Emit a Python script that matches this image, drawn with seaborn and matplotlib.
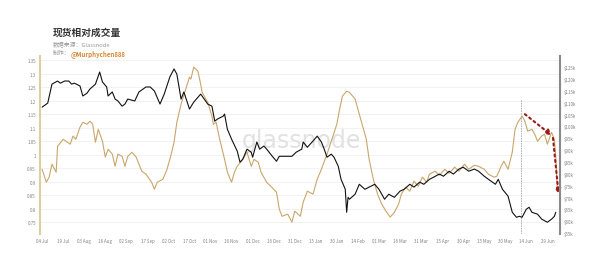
import matplotlib
matplotlib.use("Agg")
from matplotlib import pyplot as plt
import matplotlib.dates as mdates
import pandas as pd
import seaborn as sns

# spot relative volume (left axis, gold line)
vol_dates = ['2024-07-04', '2024-07-07', '2024-07-09', '2024-07-11', '2024-07-14', '2024-07-15',
             '2024-07-19', '2024-07-21', '2024-07-24', '2024-07-26', '2024-07-28', '2024-07-31',
             '2024-08-02', '2024-08-05', '2024-08-07', '2024-08-09', '2024-08-11', '2024-08-13',
             '2024-08-16', '2024-08-18', '2024-08-20', '2024-08-23', '2024-08-25', '2024-08-27',
             '2024-08-30', '2024-09-01', '2024-09-03', '2024-09-06', '2024-09-09', '2024-09-13',
             '2024-09-16', '2024-09-20', '2024-09-22', '2024-09-24', '2024-09-28', '2024-10-01',
             '2024-10-04', '2024-10-06', '2024-10-08', '2024-10-11', '2024-10-15', '2024-10-17',
             '2024-10-18', '2024-10-20', '2024-10-23', '2024-10-25', '2024-10-26', '2024-10-30',
             '2024-11-02', '2024-11-03', '2024-11-05', '2024-11-07', '2024-11-11', '2024-11-13',
             '2024-11-16', '2024-11-18', '2024-11-20', '2024-11-24', '2024-11-27', '2024-11-30',
             '2024-12-02', '2024-12-05', '2024-12-07', '2024-12-11', '2024-12-14', '2024-12-18',
             '2024-12-20', '2024-12-22', '2024-12-26', '2024-12-29', '2024-12-31', '2025-01-04',
             '2025-01-06', '2025-01-09', '2025-01-13', '2025-01-16', '2025-01-19', '2025-01-23',
             '2025-01-26', '2025-01-30', '2025-02-01', '2025-02-03', '2025-02-06', '2025-02-08',
             '2025-02-12', '2025-02-14', '2025-02-17', '2025-02-20', '2025-02-22', '2025-02-25',
             '2025-02-28', '2025-03-03', '2025-03-06', '2025-03-09', '2025-03-12', '2025-03-15',
             '2025-03-17', '2025-03-20', '2025-03-23', '2025-03-26', '2025-03-29', '2025-04-01',
             '2025-04-04', '2025-04-06', '2025-04-10', '2025-04-13', '2025-04-17', '2025-04-20',
             '2025-04-24', '2025-04-27', '2025-05-01', '2025-05-04', '2025-05-08', '2025-05-11',
             '2025-05-15', '2025-05-18', '2025-05-22', '2025-05-24', '2025-05-27', '2025-05-29',
             '2025-06-01', '2025-06-04', '2025-06-06', '2025-06-08', '2025-06-11', '2025-06-13',
             '2025-06-15', '2025-06-18', '2025-06-20', '2025-06-22', '2025-06-25', '2025-06-27',
             '2025-06-29', '2025-07-02', '2025-07-04', '2025-07-05', '2025-07-06']
vol_values = [0.946, 0.898, 0.917, 0.965, 0.935, 1.031,
              1.057, 1.050, 1.039, 1.069, 1.057, 1.102,
              1.120, 1.113, 1.124, 1.113, 1.046, 1.094,
              1.050, 0.991, 1.020, 1.002, 0.957, 1.002,
              0.994, 0.957, 0.994, 1.009, 0.991, 0.939,
              0.928, 0.898, 0.872, 0.898, 0.909, 0.946,
              1.002, 1.046, 1.120, 1.187, 1.254, 1.287,
              1.280, 1.324, 1.309, 1.261, 1.231, 1.194,
              1.143, 1.113, 1.120, 1.069, 0.983, 0.935,
              0.898, 0.935, 0.957, 0.983, 1.009, 0.957,
              0.983, 0.972, 0.935, 0.898, 0.883, 0.861,
              0.798, 0.772, 0.780, 0.750, 0.791, 0.772,
              0.824, 0.865, 0.854, 0.909, 0.946, 1.002,
              1.050, 1.113, 1.169, 1.217, 1.235, 1.231,
              1.206, 1.169, 1.113, 1.057, 0.983, 0.909,
              0.854, 0.817, 0.791, 0.769, 0.787, 0.817,
              0.854, 0.880, 0.865, 0.902, 0.883, 0.917,
              0.898, 0.928, 0.939, 0.924, 0.946, 0.931,
              0.954, 0.939, 0.965, 0.946, 0.961, 0.957,
              0.946, 0.928, 0.917, 0.920, 0.957, 0.976,
              0.946, 1.009, 1.094, 1.120, 1.143, 1.124,
              1.087, 1.094, 1.076, 1.050, 1.069, 1.076,
              1.039, 1.083, 1.057, 0.994, 0.880]

# price (right axis, black line), in $k
px_dates = ['2024-07-04', '2024-07-08', '2024-07-11', '2024-07-15', '2024-07-17', '2024-07-20',
            '2024-07-23', '2024-07-25', '2024-07-27', '2024-07-31', '2024-08-02', '2024-08-05',
            '2024-08-07', '2024-08-11', '2024-08-14', '2024-08-16', '2024-08-19', '2024-08-20',
            '2024-08-23', '2024-08-25', '2024-08-27', '2024-08-30', '2024-09-01', '2024-09-03',
            '2024-09-08', '2024-09-11', '2024-09-16', '2024-09-19', '2024-09-22', '2024-09-26',
            '2024-09-29', '2024-10-03', '2024-10-06', '2024-10-08', '2024-10-11', '2024-10-13',
            '2024-10-17', '2024-10-20', '2024-10-25', '2024-10-30', '2024-11-02', '2024-11-04',
            '2024-11-06', '2024-11-10', '2024-11-11', '2024-11-13', '2024-11-16', '2024-11-20',
            '2024-11-22', '2024-11-24', '2024-11-27', '2024-11-30', '2024-12-01', '2024-12-04',
            '2024-12-06', '2024-12-09', '2024-12-11', '2024-12-15', '2024-12-18', '2024-12-20',
            '2024-12-25', '2024-12-29', '2025-01-01', '2025-01-05', '2025-01-06', '2025-01-09',
            '2025-01-13', '2025-01-16', '2025-01-19', '2025-01-21', '2025-01-23', '2025-01-26',
            '2025-01-28', '2025-01-31', '2025-02-02', '2025-02-05', '2025-02-06', '2025-02-07',
            '2025-02-08', '2025-02-12', '2025-02-15', '2025-02-19', '2025-02-22', '2025-02-26',
            '2025-03-01', '2025-03-05', '2025-03-08', '2025-03-12', '2025-03-16', '2025-03-19',
            '2025-03-23', '2025-03-26', '2025-03-30', '2025-04-02', '2025-04-06', '2025-04-09',
            '2025-04-13', '2025-04-16', '2025-04-20', '2025-04-23', '2025-04-27', '2025-04-30',
            '2025-05-04', '2025-05-08', '2025-05-11', '2025-05-15', '2025-05-18', '2025-05-23',
            '2025-05-25', '2025-05-28', '2025-06-01', '2025-06-04', '2025-06-07', '2025-06-09',
            '2025-06-11', '2025-06-14', '2025-06-16', '2025-06-18', '2025-06-22', '2025-06-25',
            '2025-06-29', '2025-07-02', '2025-07-04', '2025-07-05']
px_values = [108.1, 109.8, 117.8, 119.1, 118.2, 119.1,
             119.1, 117.8, 118.2, 117.0, 112.8, 114.0,
             115.7, 117.8, 122.9, 118.7, 116.6, 112.8,
             114.5, 111.5, 110.7, 108.5, 109.4, 111.5,
             110.7, 114.5, 116.6, 116.6, 114.9, 109.4,
             113.6, 120.8, 124.2, 122.0, 111.5, 114.5,
             107.3, 110.2, 113.6, 109.4, 108.5, 102.2,
             103.1, 104.3, 105.2, 98.8, 94.6, 89.6,
             84.9, 86.2, 90.4, 89.1, 87.0, 93.4,
             90.4, 91.7, 90.4, 87.4, 85.3, 87.4,
             87.4, 87.4, 89.1, 90.4, 93.4, 91.2,
             93.8, 95.9, 93.4, 90.4, 87.0, 88.3,
             87.0, 83.2, 77.7, 73.5, 63.8, 70.1,
             69.3, 71.4, 75.6, 73.5, 74.4, 75.6,
             73.5, 69.3, 71.4, 70.1, 72.7, 73.5,
             75.6, 74.4, 76.5, 75.6, 77.7, 78.6,
             79.9, 79.0, 81.1, 79.9, 82.0, 82.8,
             81.1, 82.0, 81.1, 79.0, 77.7, 75.6,
             77.7, 73.5, 70.6, 63.8, 61.7, 62.1,
             61.7, 65.1, 65.9, 63.8, 63.0, 60.9,
             59.6, 60.9, 62.1, 63.8]

left_ticks = [0.75, 0.8, 0.85, 0.9, 0.95, 1, 1.05, 1.1, 1.15, 1.2, 1.25, 1.3, 1.35]
left_labels = ['0.75', '0.8', '0.85', '0.9', '0.95', '1', '1.05', '1.1', '1.15', '1.2', '1.25', '1.3', '1.35']
right_ticks = list(range(55, 130, 5))
right_labels = ['$%dk' % v for v in right_ticks]

vol = pd.DataFrame({'date': pd.to_datetime(vol_dates), 'value': vol_values})
px = pd.DataFrame({'date': pd.to_datetime(px_dates), 'value': px_values})

sns.set_theme(style='white')
plt.rcParams['font.family'] = ['Noto Sans CJK SC', 'DejaVu Sans']

fig = plt.figure(figsize=(6, 2.55), dpi=100)
ax = fig.add_axes([0.0667, 0.078, 0.8666, 0.698])
ax2 = ax.twinx()

# watermark, behind the lines
ax.text(0.502, 0.53, 'glassnode', transform=ax.transAxes, fontsize=17, color='#e2e2e2',
        ha='center', va='center', family='DejaVu Sans', zorder=1)

sns.lineplot(data=vol, x='date', y='value', ax=ax, color='#c9a66b', linewidth=0.8, zorder=3)
sns.lineplot(data=px, x='date', y='value', ax=ax2, color='#111111', linewidth=0.8)

ax.set_ylim(0.706, 1.365)
ax2.set_ylim(54.6, 129.6)
ax.set_xlim(pd.Timestamp('2024-07-02 12:00'), pd.Timestamp('2025-07-08'))

ax.set_yticks(left_ticks)
ax.set_yticklabels(left_labels)
ax2.set_yticks(right_ticks)
ax2.set_yticklabels(right_labels)
ax.grid(axis='y', color='#f0f0f0', linewidth=0.6)
ax.set_axisbelow(True)

xt = pd.date_range('2024-07-04', periods=25, freq='15D')
ax.set_xticks(xt)
ax.xaxis.set_major_formatter(mdates.DateFormatter('%d %b'))

for a in (ax, ax2):
    a.set_xlabel('')
    a.set_ylabel('')
    a.tick_params(axis='both', labelsize=3.2, colors='#808080', length=0, pad=3)
    a.spines['top'].set_visible(False)
    a.spines['bottom'].set_visible(False)
ax.spines['right'].set_visible(False)
ax.spines['left'].set_color('#dccfa2')
ax.spines['left'].set_linewidth(1.5)
ax2.spines['left'].set_visible(False)
ax2.spines['right'].set_color('#8a8a8a')
ax2.spines['right'].set_linewidth(1.5)

# vertical marker at the June peak
ax.axvline(pd.Timestamp('2025-06-10'), ymin=0, ymax=0.76, color='#9aaabb',
           linestyle=(0, (2, 1)), linewidth=0.6)

# red dotted arrows
red = '#9b1b1b'
ax.annotate('', xy=(pd.Timestamp('2025-07-02'), 1.072), xytext=(pd.Timestamp('2025-06-13'), 1.15),
            arrowprops=dict(arrowstyle='-|>,head_length=0.25,head_width=0.14', color=red,
                            linestyle=':', linewidth=1.5, shrinkA=0, shrinkB=0))
ax.annotate('', xy=(pd.Timestamp('2025-07-07'), 0.855), xytext=(pd.Timestamp('2025-07-03'), 1.062),
            arrowprops=dict(arrowstyle='-|>,head_length=0.25,head_width=0.14', color=red,
                            linestyle=':', linewidth=1.5, shrinkA=0, shrinkB=0))

# titles
fig.text(0.088, 0.873, '现货相对成交量', fontsize=7, fontweight='bold', color='#333333',
         ha='left', va='center')
fig.text(0.088, 0.826, '数据来源：Glassnode', fontsize=4.2, color='#999999',
         ha='left', va='center', style='italic')
fig.text(0.088, 0.79, '制作：', fontsize=4.2, color='#999999', ha='left', va='center')
fig.text(0.117, 0.79, '@Murphychen888', fontsize=4.4, color='#d4862f', fontweight='bold',
         ha='left', va='center', style='italic')

fig.savefig('out.png', dpi=100)
